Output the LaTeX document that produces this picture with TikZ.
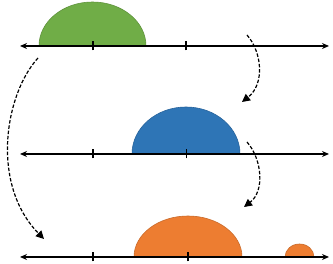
\documentclass[tikz,border=0pt]{standalone}
\usetikzlibrary{arrows.meta}
\definecolor{cgreen}{HTML}{70AD47}
\definecolor{cblue}{HTML}{2E75B6}
\definecolor{corange}{HTML}{ED7D31}
\tikzset{
  axis/.style={line width=1.6pt, {Stealth[length=7pt,width=6pt]}-{Stealth[length=7pt,width=6pt]}},
  tick/.style={line width=1.4pt},
  hump/.style={line width=0.6pt},
  move/.style={line width=1.2pt, dash pattern=on 3.5pt off 1.8pt, -{Triangle[length=8pt,width=8pt]}},
}
\begin{document}
\begin{tikzpicture}[x=1pt,y=1pt]
\useasboundingbox (0,0) rectangle (333,264);
% humps
\filldraw[hump, fill=cgreen, draw=cgreen!85!black] (39,218) arc[start angle=180,end angle=0,x radius=53.5,y radius=44] -- cycle;
\filldraw[hump, fill=cblue, draw=cblue!85!black] (132,110) arc[start angle=180,end angle=0,x radius=54,y radius=47] -- cycle;
\filldraw[hump, fill=corange, draw=corange!85!black] (134,7) arc[start angle=180,end angle=0,x radius=54,y radius=41] -- cycle;
\filldraw[hump, fill=corange, draw=corange!85!black] (285,7) arc[start angle=180,end angle=0,x radius=14.5,y radius=13] -- cycle;
% axes
\coordinate (l1) at (20,218); \coordinate (r1) at (329,218);
\coordinate (l2) at (20,110); \coordinate (r2) at (329,110);
\coordinate (l3) at (20,7);   \coordinate (r3) at (329,7);
\draw[axis] (l1) -- (r1);
\draw[axis] (l2) -- (r2);
\draw[axis] (l3) -- (r3);
% ticks
\foreach \x in {93,186} {\draw[tick] (\x,213.5) -- (\x,222.5);}
\foreach \x in {93,186.5} {\draw[tick] (\x,105.5) -- (\x,114.5);}
\foreach \x in {93,188} {\draw[tick] (\x,2.5) -- (\x,11.5);}
% dashed moves
\coordinate (a1s) at (247,229); \coordinate (a1e) at (242,162);
\coordinate (a2s) at (247,122); \coordinate (a2e) at (244,57);
\coordinate (a3s) at (38,206);  \coordinate (a3e) at (44,25);
\draw[move] (a1s) .. controls (262,212) and (265,180) .. (a1e);
\draw[move] (a2s) .. controls (262,105) and (265,73) .. (a2e);
\draw[move] (a3s) .. controls (5,170) and (-10,80) .. (a3e);
\end{tikzpicture}
\end{document}
